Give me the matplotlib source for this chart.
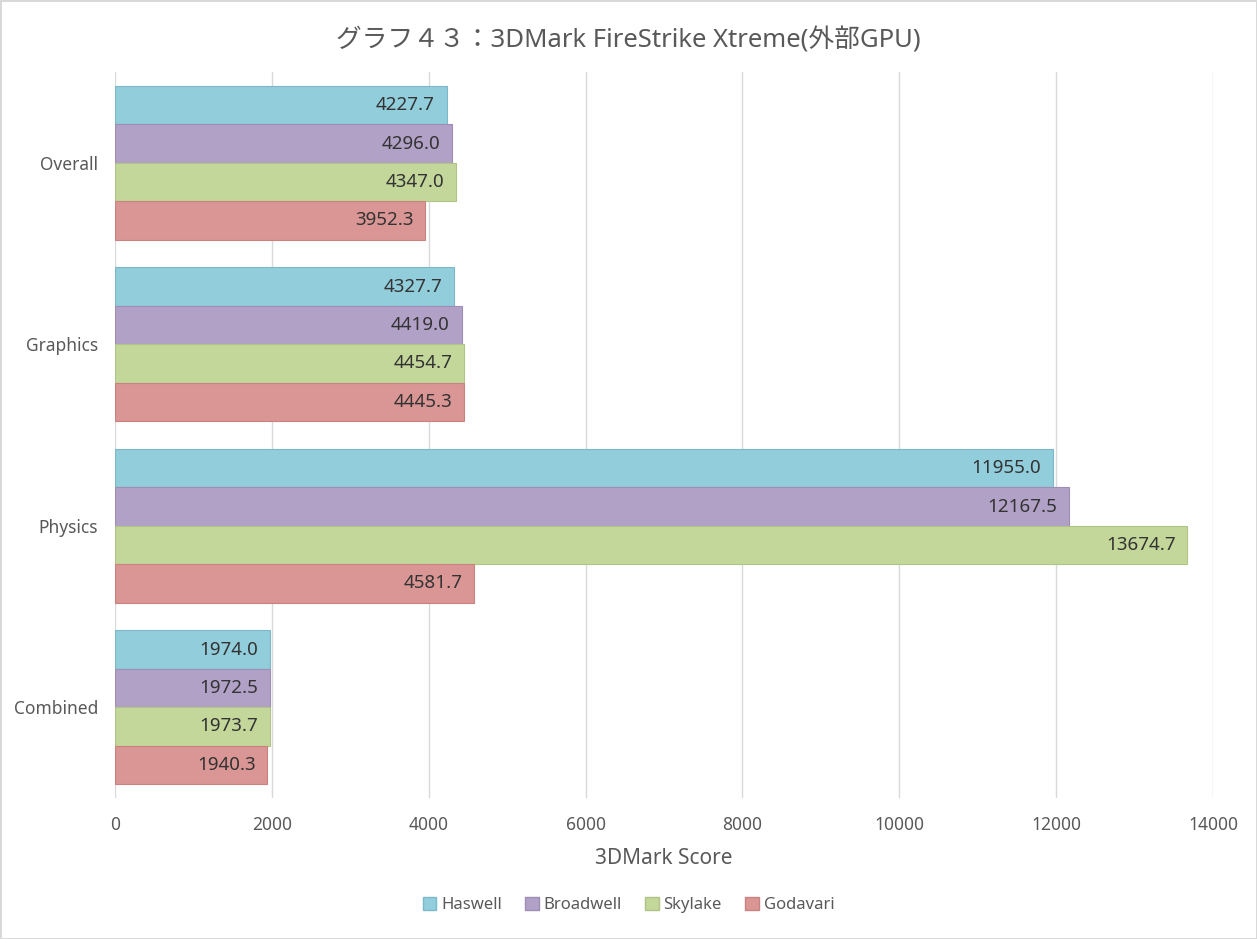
import numpy as np
import matplotlib
matplotlib.use("Agg")
import matplotlib.pyplot as plt
from matplotlib.patches import Patch

plt.rcParams['font.family'] = ['Noto Sans', 'Noto Sans CJK JP', 'DejaVu Sans']

# データ
categories = ['Overall', 'Graphics', 'Physics', 'Combined']
series_names = ['Haswell', 'Broadwell', 'Skylake', 'Godavari']
haswell = [4227.7, 4327.7, 11955.0, 1974.0]
broadwell = [4296.0, 4419.0, 12167.5, 1972.5]
skylake = [4347.0, 4454.7, 13674.7, 1973.7]
godavari = [3952.3, 4445.3, 4581.7, 1940.3]
x_ticks = [0, 2000, 4000, 6000, 8000, 10000, 12000, 14000]

colors = ['#92CDDC', '#B2A1C7', '#C4D79B', '#DA9694']
edges = ['#7DB8C8', '#9E8DB5', '#B0C585', '#C98280']

fig = plt.figure(figsize=(12.57, 9.39), dpi=100, edgecolor='#D9D9D9', linewidth=2)
ax = fig.add_axes([0.0915, 0.1502, 0.8735, 0.7731])

bar_h = 0.2115
y = np.arange(len(categories))
all_series = [haswell, broadwell, skylake, godavari]
for i, vals in enumerate(all_series):
    pos = y - 2 * bar_h + bar_h * (i + 0.5)
    bars = ax.barh(pos, vals, height=bar_h, color=colors[i], edgecolor=edges[i],
                   linewidth=0.8, label=series_names[i], zorder=3)
    for b, v in zip(bars, vals):
        ax.text(v - 150, b.get_y() + bar_h / 2, '%.1f' % v, ha='right', va='center',
                fontsize=13.5, color='#333333', zorder=4)

ax.set_xlim(0, 14000)
ax.set_ylim(3.5, -0.5)
ax.set_xticks(x_ticks)
ax.set_xticklabels([str(t) for t in x_ticks])
ax.set_yticks(y)
ax.set_yticklabels(categories)
ax.tick_params(axis='both', length=0, labelsize=12.5, labelcolor='#595959')
ax.tick_params(axis='y', pad=12)
ax.tick_params(axis='x', pad=13)
ax.grid(axis='x', color='#D9D9D9', linewidth=1, zorder=0)
for s in ax.spines.values():
    s.set_visible(False)

ax.set_xlabel('3DMark Score', fontsize=15, color='#595959', labelpad=10)

fig.text(0.5, 0.957, 'グラフ４３：3DMark FireStrike Xtreme(外部GPU)', ha='center', va='center',
         fontsize=18.5, color='#595959')

handles = [Patch(facecolor=colors[i], edgecolor=edges[i], label=series_names[i]) for i in range(4)]
fig.legend(handles=handles, loc='center', bbox_to_anchor=(0.5, 0.036), ncol=4, frameon=False,
           fontsize=12, labelcolor='#595959', handlelength=0.8, handleheight=0.8,
           handletextpad=0.3, columnspacing=1.4)

fig.savefig('out.png', dpi=100, edgecolor=fig.get_edgecolor())
